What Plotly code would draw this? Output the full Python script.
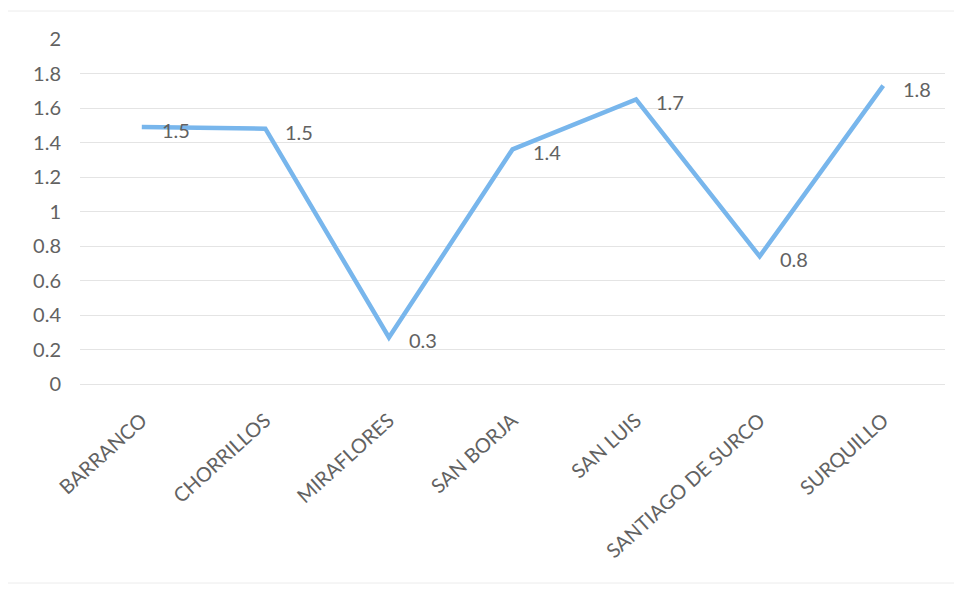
import plotly.graph_objects as go

categories = ["BARRANCO", "CHORRILLOS", "MIRAFLORES", "SAN BORJA", "SAN LUIS", "SANTIAGO DE SURCO", "SURQUILLO"]
values = [1.49, 1.48, 0.27, 1.36, 1.65, 0.74, 1.73]
labels = ["1.5", "1.5", "0.3", "1.4", "1.7", "0.8", "1.8"]
y_ticks = [0, 0.2, 0.4, 0.6, 0.8, 1, 1.2, 1.4, 1.6, 1.8, 2]
y_tick_text = ["0", "0.2", "0.4", "0.6", "0.8", "1", "1.2", "1.4", "1.6", "1.8", "2"]

FONT = "Lato, Open Sans, sans-serif"
GRAY = "#626262"

fig = go.Figure()
fig.add_trace(go.Scatter(
    x=categories, y=values, mode="lines",
    line=dict(color="#78b6ec", width=4.5),
    hoverinfo="skip", showlegend=False,
))

for c, v, t in zip(categories, values, labels):
    fig.add_annotation(x=c, y=v, text=t, showarrow=False, xanchor="left",
                       yanchor="middle", xshift=18, yshift=-3,
                       font=dict(family=FONT, size=20, color=GRAY))

# page body has an 8px margin, so the figure is sized to fit inside it
fig.update_layout(
    width=954, height=586,
    margin=dict(l=72, r=17, t=31, b=210, autoexpand=False),
    paper_bgcolor="white", plot_bgcolor="white",
    font=dict(family=FONT, size=16, color=GRAY),
    xaxis=dict(type="category", range=[-0.5, 6.5], tickangle=-42,
               showgrid=False, showline=False, zeroline=False, ticks="",
               automargin=False, ticklabelstandoff=20,
               tickfont=dict(family=FONT, size=20, color=GRAY)),
    yaxis=dict(range=[0, 2], tickvals=y_ticks, ticktext=y_tick_text,
               showgrid=True, gridcolor="#e4e4e4", gridwidth=1,
               zeroline=True, zerolinecolor="#e4e4e4", zerolinewidth=1,
               showline=False, ticks="", ticklabelstandoff=18,
               automargin=False,
               tickfont=dict(family=FONT, size=20, color=GRAY)),
)

fig.add_shape(type="rect", xref="paper", yref="paper",
              x0=-73/865, x1=1 + 12/865, y0=-199/345, y1=1 + 28/345,
              line=dict(color="#ececec", width=1), fillcolor="rgba(0,0,0,0)")

fig.write_html("out.html")
